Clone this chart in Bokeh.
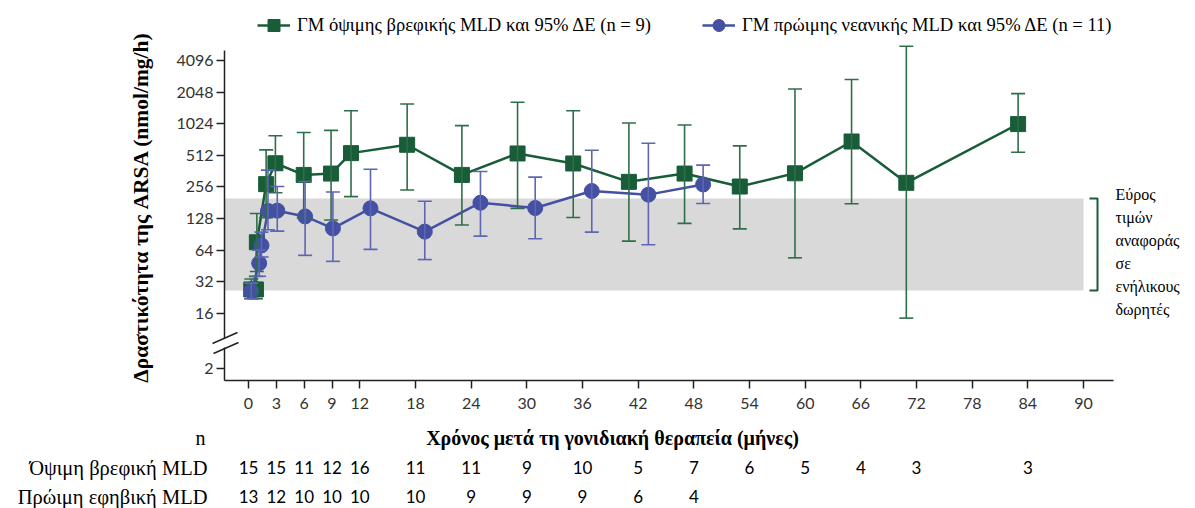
import math
from bokeh.plotting import figure
from bokeh.models import (Range1d, FixedTicker, CustomJSTickFormatter, Whisker, TeeHead,
                          ColumnDataSource, BoxAnnotation, Label, Legend, LegendItem, Arrow)
from bokeh.embed import file_html
from bokeh.resources import INLINE

# ---------------- data ----------------
late_month = [0.3, 0.8, 0.9, 1.9, 2.9, 5.95, 8.9, 11.05, 17.1, 23.0, 29.0, 35.0, 41.0, 47.0, 52.95, 58.9, 65.0, 70.9, 82.95]
late_gm    = [27, 27, 76, 272, 430, 333, 343, 537, 645, 333, 533, 428, 286, 343, 258, 345, 693, 280, 1015]
late_lo    = [22, 22, 40, 130, 225, 130, 124, 207, 239, 111, 160, 131, 78, 115, 102, 54, 177, 14.4, 548]
late_hi    = [34, 36, 143, 577, 787, 845, 885, 1360, 1580, 981, 1640, 1360, 1040, 996, 630, 2190, 2700, 5600, 1980]

early_month = [0.3, 1.15, 1.4, 2.1, 3.1, 6.1, 9.1, 13.15, 19.0, 25.0, 30.9, 37.0, 43.1, 49.0]
early_gm    = [26, 48, 71, 151, 152, 134, 103, 160, 96, 181, 161, 234, 216, 270]
early_lo    = [22, 36, 55, 100, 97, 57, 50, 65, 52, 87, 82, 95, 72, 178]
early_hi    = [31, 64, 95, 370, 258, 288, 229, 377, 187, 359, 317, 572, 666, 413]

REF_LOW, REF_HIGH, REF_END = 26.4, 199, 90

x_ticks = [0, 3, 6, 9, 12, 18, 24, 30, 36, 42, 48, 54, 60, 66, 72, 78, 84, 90]
y_ticks = [16, 32, 64, 128, 256, 512, 1024, 2048, 4096]
y_break_label = "2"

n_months = [0, 3, 6, 9, 12, 18, 24, 30, 36, 42, 48, 54, 60, 66, 72, 84]
n_late   = [15, 15, 11, 12, 16, 11, 11, 9, 10, 5, 7, 6, 5, 4, 3, 3]
n_early  = [13, 12, 10, 10, 10, 10, 9, 9, 9, 6, 4]

legend_late = "ΓΜ όψιμης βρεφικής MLD και 95% ΔΕ (n = 9)"
legend_early = "ΓΜ πρώιμης νεανικής MLD και 95% ΔΕ (n = 11)"
row_late = "Όψιμη βρεφική MLD"
row_early = "Πρώιμη εφηβική MLD"
ref_text = ["Εύρος", "τιμών", "αναφοράς", "σε", "ενήλικους", "δωρητές"]
x_title = "Χρόνος μετά τη γονιδιακή θεραπεία (μήνες)"
y_title = "Δραστικότητα της ARSA (nmol/mg/h)"

# ---------------- layout / styles ----------------
W, H = 1195, 508
GREEN = "#185c38"
GREEN_W = "#2f6e4a"
BLUE = "#4450a2"
BLUE_W = "#5d66b4"
AX = "#222222"
SERIF = "Liberation Serif"
SANS = "Lato"

# screen mapping of the plotting area (pixels of the page)
X0_PX, PX_PER_MONTH = 248.0, 9.278          # month 0 and px per month
Y4096_PX, PX_PER_OCT = 60.0, 31.6           # 4096 tick and px per doubling
AXIS_LEFT_PX, AXIS_RIGHT_PX, AXIS_BOTTOM_PX, AXIS_TOP_PX = 224, 1113, 380, 50

def m_at(px):
    return (px - X0_PX) / PX_PER_MONTH

def v_at(py):
    return 2 ** (12 - (py - Y4096_PX) / PX_PER_OCT)

BREAK_POS = v_at(367.5)   # where the "2" tick sits below the axis break

p = figure(width=W, height=H, output_backend="svg", toolbar_location=None,
           y_axis_type="log",
           x_range=Range1d(m_at(0), m_at(W)), y_range=Range1d(v_at(H), v_at(0)),
           min_border=0, min_border_left=0, min_border_right=0,
           min_border_top=0, min_border_bottom=0)
p.outline_line_color = None
p.grid.visible = False
p.background_fill_color = "white"
p.border_fill_color = "white"

# axes, fixed at the plotting-area edges
xa, ya = p.xaxis[0], p.yaxis[0]
xa.fixed_location = v_at(AXIS_BOTTOM_PX)
ya.fixed_location = m_at(AXIS_LEFT_PX)
xa.bounds = (m_at(AXIS_LEFT_PX), m_at(AXIS_RIGHT_PX))
ya.bounds = (v_at(AXIS_BOTTOM_PX), v_at(AXIS_TOP_PX))
xa.ticker = FixedTicker(ticks=x_ticks)
ya.ticker = FixedTicker(ticks=[BREAK_POS] + y_ticks)
ya.formatter = CustomJSTickFormatter(args=dict(lab=y_break_label),
                                     code="return tick < 8 ? lab : Math.round(tick).toString();")
for ax in (xa, ya):
    ax.axis_line_color = AX
    ax.axis_line_width = 1.5
    ax.major_tick_line_color = AX
    ax.major_tick_line_width = 1.5
    ax.major_tick_out = 8
    ax.major_tick_in = 0
    ax.minor_tick_out = 0
    ax.minor_tick_in = 0
    ax.major_label_text_font = SANS
    ax.major_label_text_font_size = "16px"
    ax.major_label_text_color = "#333333"
xa.major_label_standoff = 9
ya.major_label_standoff = 3

# reference range band
p.add_layout(BoxAnnotation(left=m_at(AXIS_LEFT_PX), right=REF_END, bottom=REF_LOW, top=REF_HIGH,
                           fill_color="#d9d9d9", fill_alpha=1.0, line_color=None, level="underlay"))
# bracket
bx0, bx1 = m_at(1089), m_at(1097)
p.line([bx0, bx1, bx1, bx0], [REF_HIGH, REF_HIGH, REF_LOW, REF_LOW], line_color=GREEN, line_width=2)

late = ColumnDataSource(dict(x=late_month, y=late_gm, lo=late_lo, hi=late_hi))
early = ColumnDataSource(dict(x=early_month, y=early_gm, lo=early_lo, hi=early_hi))

p.add_layout(Whisker(source=late, base="x", upper="hi", lower="lo", dimension="height",
                     line_color=GREEN_W, line_width=1.6,
                     upper_head=TeeHead(size=14, line_color=GREEN_W, line_width=1.6),
                     lower_head=TeeHead(size=14, line_color=GREEN_W, line_width=1.6), level="glyph"))
l_late = p.line("x", "y", source=late, line_color=GREEN, line_width=2.5)
s_late = p.scatter("x", "y", source=late, marker="square", size=15, fill_color=GREEN, line_color=GREEN)

p.add_layout(Whisker(source=early, base="x", upper="hi", lower="lo", dimension="height",
                     line_color=BLUE_W, line_width=1.6,
                     upper_head=TeeHead(size=14, line_color=BLUE_W, line_width=1.6),
                     lower_head=TeeHead(size=14, line_color=BLUE_W, line_width=1.6), level="glyph"))
l_early = p.line("x", "y", source=early, line_color=BLUE, line_width=2.5)
s_early = p.scatter("x", "y", source=early, marker="circle", size=15, fill_color=BLUE, line_color=BLUE)

def sy(py):  # page y (from top) -> screen units of the frame (from bottom)
    return H - py

# legend
legend = Legend(items=[LegendItem(label=legend_late, renderers=[l_late, s_late]),
                       LegendItem(label=legend_early, renderers=[l_early, s_early])],
                orientation="horizontal", location=(257, sy(40)),
                glyph_width=33, glyph_height=30, label_standoff=7, spacing=51,
                padding=0, margin=0, border_line_color=None, background_fill_alpha=0,
                label_text_font=SERIF, label_text_font_size="18.6px", label_text_color="black")
p.add_layout(legend, "center")

# axis break marks
p.add_layout(Arrow(x_start=AXIS_LEFT_PX, y_start=sy(338), x_end=AXIS_LEFT_PX, y_end=sy(347),
                   start_units="screen", end_units="screen", end=None, line_color="white", line_width=5))
p.add_layout(Arrow(x_start=212, y_start=sy(343), x_end=237, y_end=sy(332), start_units="screen",
                   end_units="screen", end=None, line_color=AX, line_width=1.5))
p.add_layout(Arrow(x_start=213, y_start=sy(353), x_end=238, y_end=sy(342), start_units="screen",
                   end_units="screen", end=None, line_color=AX, line_width=1.5))

# axis titles
p.add_layout(Label(x=140, y=sy(207), x_units="screen", y_units="screen", text=y_title,
                   angle=math.pi / 2, text_align="center", text_baseline="middle", text_font=SERIF,
                   text_font_style="bold", text_font_size="21.5px", text_color="black"))
p.add_layout(Label(x=612, y=sy(437), x_units="screen", y_units="screen", text=x_title,
                   text_align="center", text_baseline="middle", text_font=SERIF,
                   text_font_style="bold", text_font_size="20px", text_color="black"))
# n table
p.add_layout(Label(x=200, y=sy(437), x_units="screen", y_units="screen", text="n",
                   text_align="center", text_baseline="middle", text_font=SERIF,
                   text_font_size="20px", text_color="black"))
for txt, py in ((row_late, 467), (row_early, 496)):
    p.add_layout(Label(x=207, y=sy(py), x_units="screen", y_units="screen", text=txt,
                       text_align="right", text_baseline="middle", text_font=SERIF,
                       text_font_size="20.5px", text_color="black"))
for vals, py in ((n_late, 467), (n_early, 496)):
    for m, v in zip(n_months, vals):
        p.add_layout(Label(x=m, y=sy(py), x_units="data", y_units="screen", text=str(v),
                           text_align="center", text_baseline="middle", text_font=SANS,
                           text_font_size="17px", text_color="black"))

# reference range text
for i, t in enumerate(ref_text):
    p.add_layout(Label(x=1115, y=sy(194 + 23 * i), x_units="screen", y_units="screen", text=t,
                       text_align="left", text_baseline="middle", text_font=SERIF,
                       text_font_size="16px", text_color="black"))

open("out.html", "w").write(file_html(p, INLINE))
